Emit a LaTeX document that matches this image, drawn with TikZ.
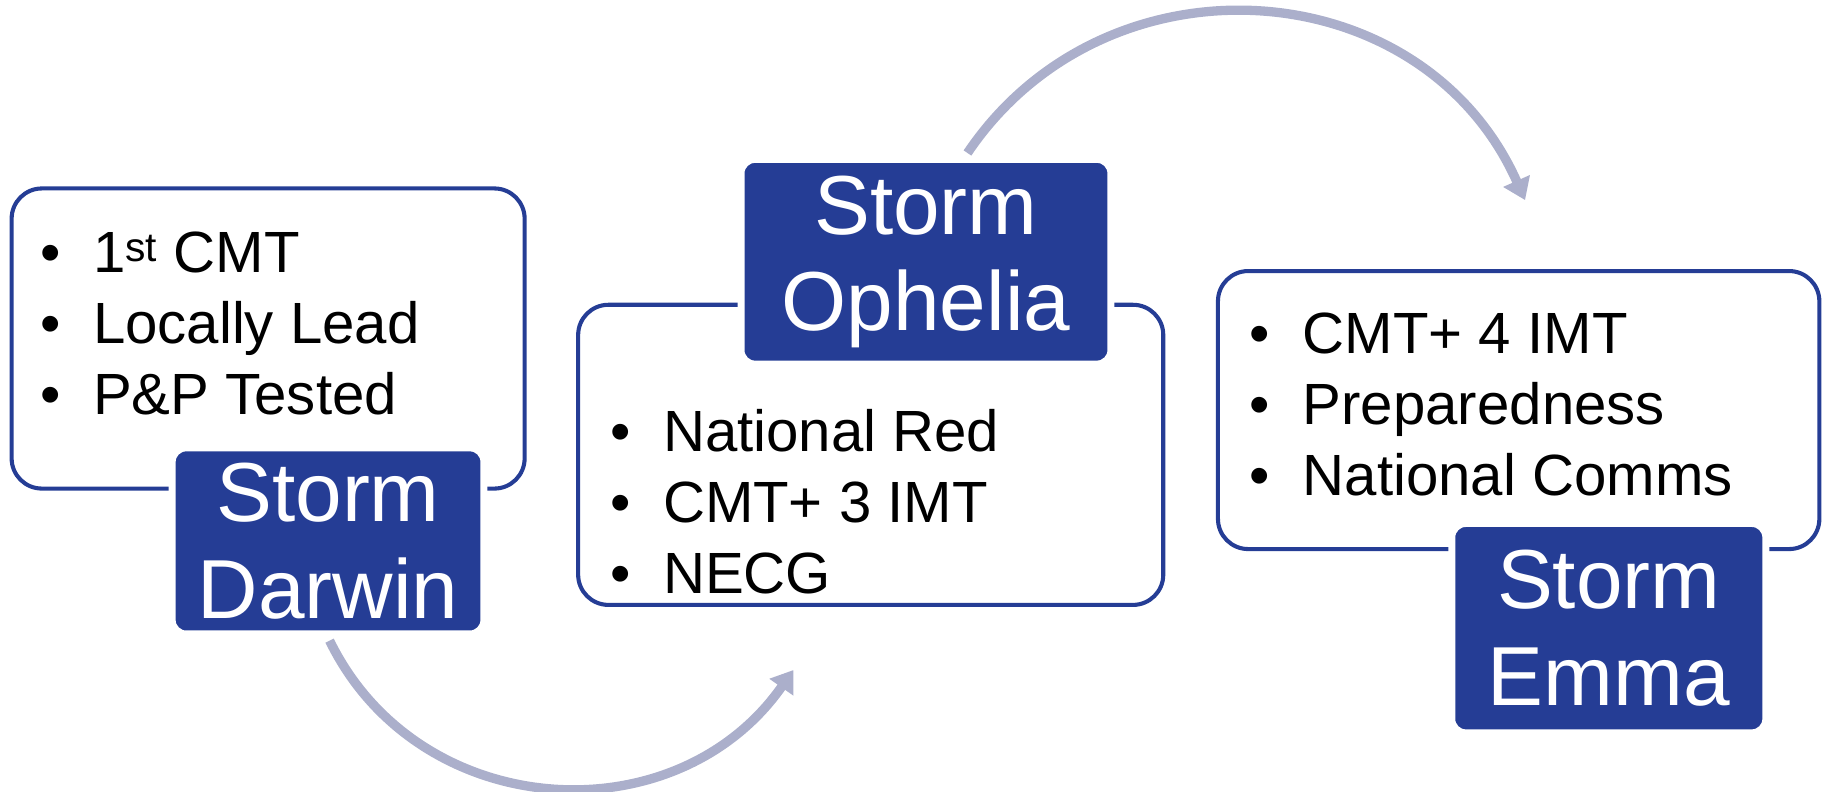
\documentclass[tikz,border=0pt]{standalone}
\usepackage{fontspec}
\setmainfont{Liberation Sans}
\usepackage{tikz}
\usetikzlibrary{arrows.meta, positioning, calc}
\definecolor{stormblue}{RGB}{37,61,149}
\definecolor{flowgray}{RGB}{171,175,203}

\begin{document}
\begin{tikzpicture}[x=1pt, y=-1pt, font=\fontsize{50}{61}\selectfont]
	\tikzset	{
		box/.style={draw=stormblue, line width=3.5pt, rounded corners=26pt, fill=white},
		storm/.style={draw=white, line width=6pt, fill=stormblue, rounded corners=12pt, text=white, align=center, inner sep=0pt, font=\fontsize{72}{83}\selectfont},
		item/.style={anchor=base west, inner sep=0pt},
		flow/.style={draw=flowgray, line width=8pt, shorten <=3pt, -{Triangle[width=24pt,length=18pt]}},
	}
	\useasboundingbox (0,0) rectangle (1568,680);

	\node[box, minimum width=441pt, minimum height=258pt] (b1) at (230.5,291) {};
	\foreach \t [count=\i] in {1\textsuperscript{st} CMT, Locally Lead, P\&P Tested} {
		\node[item] (a\i) at ($(b1.north west)+(26,{13+61*\i})$) {\textbullet\hspace{28pt}\t};
	}
	\node[storm, minimum width=268pt, minimum height=160pt] (darwin) at (282,465) {Storm\\Darwin};

	\node[box, minimum width=503pt, minimum height=258pt] (b2) at (748.5,391) {};
	\node[storm, minimum width=318pt, minimum height=176pt] (ophelia) at (796,225) {Storm\\Ophelia};
	\foreach \t [count=\i] in {National Red, CMT+ 3 IMT, NECG} {
		\node[item] (c\i) at ($(b2.north west)+(29,{67+61*\i})$) {\textbullet\hspace{28pt}\t};
	}

	\node[box, minimum width=517pt, minimum height=239pt] (b3) at (1305.5,352.5) {};
	\foreach \t [count=\i] in {CMT+ 4 IMT, Preparedness, National Comms} {
		\node[item] (e\i) at ($(b3.north west)+(29,{12+61*\i})$) {\textbullet\hspace{28pt}\t};
	}
	\node[storm, minimum width=270pt, minimum height=180pt] (emma) at (1383,540) {Storm\\Emma};

	\coordinate (d2o) at (682,576);
	\coordinate (o2e) at (1311,172);
	\draw[flow] (darwin.south) to[out=-64, in=235, looseness=1.13] (d2o);
	\draw[flow] ([xshift=34pt]ophelia.north) to[out=56, in=114, looseness=1.15] (o2e);
\end{tikzpicture}
\end{document}
